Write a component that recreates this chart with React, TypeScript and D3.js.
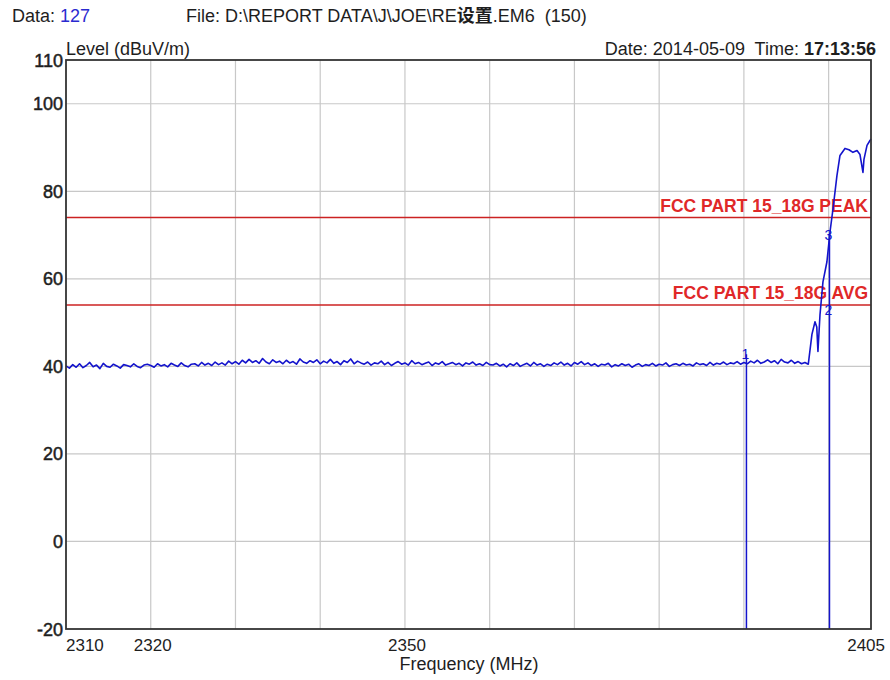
import React from "react";
import * as d3 from "d3";

const W = 890;
const H = 680;

const yTicks = [110, 100, 80, 60, 40, 20, 0, -20];
const yGrid = [100, 80, 60, 40, 20, 0];
const xGrid = [2320, 2330, 2340, 2350, 2360, 2370, 2380, 2390, 2400];
const xTicks = [2310, 2320, 2350, 2405];

const noiseStart = 2310;
const noiseEnd = 2397.6;
const noiseLevels = [
  40.1, 39.6, 40.4, 39.8, 40.6, 39.7, 40.2, 40.9, 39.9, 40.3, 39.5, 40.7, 40.0, 39.8, 40.5, 40.1, 39.6, 40.4, 40.2, 39.9, 40.6, 40.0, 39.7, 40.3, 40.5,
  40.2, 39.8, 40.6, 40.1, 40.4, 39.9, 40.7, 40.3, 40.0, 40.8, 40.2, 39.9, 40.5, 40.6, 40.1, 40.9, 40.3, 40.7, 40.2, 41.0, 40.4, 40.8, 40.3, 41.2, 40.6,
  41.1, 40.5, 41.4, 40.8, 41.6, 40.9, 41.3, 40.7, 41.8, 41.0, 40.6, 41.5, 40.9, 41.2, 40.6, 41.4, 40.8, 41.1, 40.5, 41.7, 41.0, 40.7, 41.3, 40.9, 41.5, 40.6, 41.2, 40.8, 41.6, 40.7, 41.1, 40.4, 41.3, 40.9, 41.7, 40.6, 41.2, 40.8,
  40.5, 41.0, 40.3, 40.8, 40.6, 41.2, 40.4, 40.9, 40.2, 40.7, 41.1, 40.5, 40.8, 40.3, 41.3, 40.6, 40.9, 40.4, 40.7, 41.0, 40.2, 40.8, 40.5, 41.1, 40.3, 40.6, 40.9, 40.4, 40.7, 40.1, 40.8, 40.5, 41.0, 40.3, 40.6, 40.2, 40.9, 40.4,
  40.3, 40.7, 40.1, 40.5, 39.9, 40.6, 40.2, 40.8, 40.0, 40.4, 40.7, 40.1, 40.9, 40.3, 40.6, 40.0, 40.5, 40.2, 40.8, 40.4, 41.0, 40.3, 40.7, 40.1, 40.9, 40.5, 41.1, 40.4, 40.8, 40.2, 40.6, 40.0, 40.5, 40.3, 40.7, 39.9, 40.4, 40.1, 40.6, 40.2, 40.5, 39.8, 40.3, 40.6, 40.0, 40.4, 40.2, 40.7, 40.1, 40.5, 40.3, 40.8, 40.0, 40.4, 40.6, 40.2, 40.7, 40.3, 40.5, 40.1, 40.8, 40.4, 40.6, 40.2, 40.9, 40.3, 40.7, 40.5, 41.0, 40.4, 40.8, 40.6, 41.1, 40.5, 40.9,
  40.6, 41.2, 40.8, 41.4, 40.7, 41.0, 41.5, 40.9, 41.3, 40.6, 41.6, 41.0, 40.8, 41.4, 40.7, 41.1, 40.6, 40.9, 40.5,
];

const riseFreqs = [2398.03, 2398.39, 2398.6, 2398.74, 2398.98, 2399.33, 2399.8, 2400.16, 2400.51, 2400.98, 2401.34, 2401.93, 2402.4, 2402.87, 2403.35, 2403.7, 2404.05, 2404.17, 2404.53, 2404.88, 2405];
const riseLevels = [47.3, 50.2, 49.0, 43.4, 51.8, 59.3, 63.9, 70.7, 75.9, 83.6, 88.2, 89.8, 89.5, 88.9, 89.3, 88.4, 84.3, 87.3, 90.5, 91.6, 92.0];

const limitNames = ["FCC PART 15_18G PEAK", "FCC PART 15_18G AVG"];
const limitValues = [74, 54];

const markerIds = ["1", "2", "3"];
const markerFreqs = [2390.3, 2400.1, 2400.1];
const markerLevels = [42.8, 52.9, 70.0];
const markerLines = [true, false, true];

const FONT = "'Liberation Sans', Arial, sans-serif";
const TXT = "#1e1e1e";

export default function App() {
  const left = 66, right = 871, top = 60, bottom = 629;
  const x = d3.scaleLinear().domain([2310, 2405]).range([left, right]);
  const y = d3.scaleLinear().domain([-20, 110]).range([bottom, top]);

  const step = (noiseEnd - noiseStart) / (noiseLevels.length - 1);
  const pts: [number, number][] = noiseLevels.map((v, i) => [noiseStart + i * step, v]);
  riseFreqs.forEach((f, i) => pts.push([f, riseLevels[i]]));
  const line = d3.line<[number, number]>().x((d) => x(d[0])).y((d) => y(d[1]));
  const pre = { whiteSpace: "pre" as const };

  return (
    <svg width={W} height={H} style={{ display: "block", position: "absolute", left: 0, top: 0, background: "#fff" }} fontFamily={FONT}>
      <rect x={0} y={0} width={W} height={H} fill="#fff" />
      <text x={12} y={22} fontSize={18} fill={TXT} style={pre}>
        Data: <tspan fill="#2a2ad0">127</tspan>
      </text>
      <text x={186} y={22} fontSize={18} fill={TXT} style={pre}>
        File: D:\REPORT DATA\J\JOE\RE<tspan fontWeight="bold" fontFamily="'Noto Sans CJK SC', sans-serif">设置</tspan>.EM6  (150)
      </text>
      <text x={left} y={55} fontSize={18} fill={TXT}>Level (dBuV/m)</text>
      <text x={876} y={55} fontSize={18} fill={TXT} textAnchor="end" style={pre}>
        Date: 2014-05-09  Time: <tspan fontWeight="bold">17:13:56</tspan>
      </text>

      {yGrid.map((v) => (
        <line key={"yg" + v} x1={left} x2={right} y1={y(v)} y2={y(v)} stroke="#c8c8c8" strokeWidth={1.2} />
      ))}
      {xGrid.map((v) => (
        <line key={"xg" + v} x1={x(v)} x2={x(v)} y1={top} y2={bottom} stroke="#c8c8c8" strokeWidth={1.2} />
      ))}

      {limitValues.map((v, i) => (
        <g key={"lim" + i}>
          <line x1={left} x2={right} y1={y(v)} y2={y(v)} stroke="#cc2222" strokeWidth={1.5} />
          <text x={right - 3} y={y(v) - 6} fontSize={17.5} fontWeight="bold" fill="#e02828" textAnchor="end">
            {limitNames[i]}
          </text>
        </g>
      ))}

      <path d={line(pts) || ""} fill="none" stroke="#1414cc" strokeWidth={1.6} strokeLinejoin="round" />

      {markerIds.map((id, i) => (
        <g key={"m" + id}>
          {markerLines[i] && (
            <line x1={x(markerFreqs[i])} x2={x(markerFreqs[i])} y1={y(markerLevels[i])} y2={bottom} stroke="#1414cc" strokeWidth={1.5} />
          )}
          <text x={x(markerFreqs[i]) - 1} y={y(markerLevels[i]) + 5} fontSize={14} fill="#1414cc" textAnchor="middle">
            {id}
          </text>
        </g>
      ))}

      <rect x={left} y={top} width={right - left} height={bottom - top} fill="none" stroke="#333" strokeWidth={1.8} />

      {yTicks.map((v) => (
        <text key={"yt" + v} x={left - 3} y={y(v) + 6.5} fontSize={18} fill={TXT} stroke={TXT} strokeWidth={0.5} textAnchor="end">
          {v}
        </text>
      ))}
      {xTicks.map((v, i) => (
        <text key={"xt" + v} x={i === 0 ? left : i === xTicks.length - 1 ? 885 : x(v) + 2} y={651} fontSize={17} fill={TXT}
          textAnchor={i === 0 ? "start" : i === xTicks.length - 1 ? "end" : "middle"}>
          {v}
        </text>
      ))}
      <text x={469} y={670} fontSize={18} fill={TXT} textAnchor="middle">Frequency (MHz)</text>
    </svg>
  );
}
